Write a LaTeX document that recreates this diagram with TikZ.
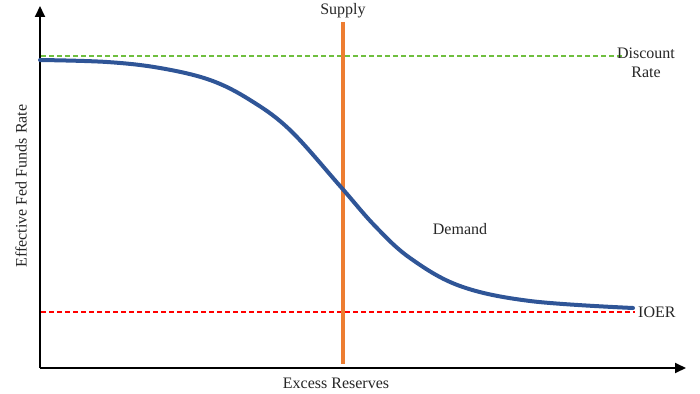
\documentclass[tikz,border=0pt]{standalone}
\usepackage{fontspec}
\setmainfont{Liberation Serif}
\usetikzlibrary{arrows.meta}
\definecolor{demandblue}{HTML}{2F5597}
\definecolor{supplyorange}{HTML}{ED7D31}
\definecolor{discgreen}{HTML}{6FBF3F}
\definecolor{ioerred}{HTML}{FF0000}
\definecolor{txt}{HTML}{262626}
\begin{document}
\begin{tikzpicture}[x=1pt,y=-1pt,
  axis/.style={line width=1.8pt,-{Triangle[length=11pt,width=10pt]}},
  lbl/.style={font=\fontsize{16}{17}\selectfont,text=txt,inner sep=0pt},
  refline/.style={line width=1.3pt,dash pattern=on 5pt off 3pt}]
\useasboundingbox (0,0) rectangle (700,393);
\coordinate (O) at (40,368);
\coordinate (ytop) at (40,6);
\coordinate (xend) at (686,368);
\draw[axis] (O) -- (ytop);
\draw[axis] (O) -- (xend);
\coordinate (g1) at (41,56);
\coordinate (g2) at (622,56);
\draw[refline,discgreen] (g1) -- (g2);
\coordinate (r1) at (41,312);
\coordinate (r2) at (635,312);
\draw[refline,ioerred] (r1) -- (r2);
\coordinate (s1) at (343,22);
\coordinate (s2) at (343,364);
\draw[supplyorange,line width=4.5pt] (s1) -- (s2);
\draw[demandblue,line width=4pt,line cap=round] plot[smooth,tension=0.6] coordinates {
 (40,60) (107,62) (160,68) (210,80) (250,100) (290,130) (340,186)
 (375,226) (410,258) (460,286) (530,301) (633,308)};
\node[lbl] (supply) at (343,11) {Supply};
\node[lbl,align=center] (disc) at (646,63) {Discount\\[2pt]Rate};
\node[lbl,anchor=west] (ioer) at (638,312) {IOER};
\node[lbl] (demand) at (460,229) {Demand};
\node[lbl] (xlab) at (336,383) {Excess Reserves};
\node[lbl,rotate=90] (ylab) at (21,186) {Effective Fed Funds Rate};
\end{tikzpicture}
\end{document}
